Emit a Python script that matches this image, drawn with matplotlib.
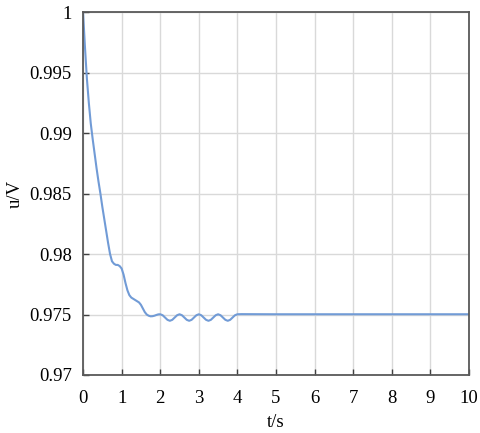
import matplotlib
matplotlib.use("Agg")
import matplotlib.pyplot as plt

# time (s) and voltage (V)
t = [0, 0.05, 0.1, 0.15, 0.2, 0.25, 0.3, 0.35, 0.4, 0.45, 0.5, 0.55, 0.6,
     0.65, 0.7, 0.75, 0.8, 0.85, 0.9, 0.95, 1.0, 1.05, 1.1, 1.15, 1.2,
     1.25, 1.3, 1.35, 1.4, 1.45, 1.5, 1.55, 1.6, 1.65, 1.7, 1.75, 1.8,
     1.85, 1.9, 1.95,
     2.0, 2.0625, 2.125, 2.1875, 2.25, 2.3125, 2.375, 2.4375,
     2.5, 2.5625, 2.625, 2.6875, 2.75, 2.8125, 2.875, 2.9375,
     3.0, 3.0625, 3.125, 3.1875, 3.25, 3.3125, 3.375, 3.4375,
     3.5, 3.5625, 3.625, 3.6875, 3.75, 3.8125, 3.875, 3.9375,
     4.0, 4.1, 5, 6, 7, 8, 9, 10]
u = [1.0, 0.9971, 0.9945, 0.9925, 0.9908, 0.9895, 0.9883, 0.9871, 0.9860,
     0.9850, 0.9839, 0.9829, 0.9819, 0.9809, 0.9800, 0.9794, 0.9792,
     0.9791, 0.9791, 0.9790, 0.9788, 0.9783, 0.9776, 0.9770, 0.9766,
     0.9764, 0.9763, 0.9762, 0.9761, 0.9760, 0.9758, 0.9755, 0.9752,
     0.9750, 0.97490, 0.97485, 0.97486, 0.97490, 0.97496, 0.97501,
     0.97502, 0.97494, 0.97475, 0.97456, 0.97448, 0.97456, 0.97475, 0.97494,
     0.97502, 0.97494, 0.97475, 0.97456, 0.97448, 0.97456, 0.97475, 0.97494,
     0.97502, 0.97494, 0.97475, 0.97456, 0.97448, 0.97456, 0.97475, 0.97494,
     0.97502, 0.97494, 0.97475, 0.97456, 0.97448, 0.97456, 0.97475, 0.97494,
     0.97502, 0.97503, 0.97502, 0.97502, 0.97502, 0.97502, 0.97502, 0.97502]

x_ticks = [0, 1, 2, 3, 4, 5, 6, 7, 8, 9, 10]
y_ticks = [0.97, 0.975, 0.98, 0.985, 0.99, 0.995, 1.0]
y_tick_labels = ["0.97", "0.975", "0.98", "0.985", "0.99", "0.995", "1"]

plt.rcParams["font.family"] = "Liberation Serif"
plt.rcParams["font.size"] = 13.5

fig = plt.figure(figsize=(4.8, 4.33), dpi=100)
ax = fig.add_axes([0.173, 0.134, 0.804, 0.838])

ax.plot(t, u, color="#719bd6", lw=1.5)

ax.set_xlim(0, 10)
ax.set_ylim(0.97, 1.0)
ax.set_xticks(x_ticks)
ax.set_yticks(y_ticks)
ax.set_yticklabels(y_tick_labels)
ax.grid(True, color="#d9d9d9", lw=1)
ax.set_axisbelow(True)

for s in ax.spines.values():
    s.set_color("#595959")
    s.set_linewidth(1.3)
ax.tick_params(direction="in", length=4, width=1, color="#404040", pad=8,
               top=False, right=False)
ax.tick_params(axis="x", pad=11)

ax.set_xlabel("t/s", labelpad=5)
ax.set_ylabel("u/V", labelpad=4)

fig.savefig("out.png", dpi=100)
